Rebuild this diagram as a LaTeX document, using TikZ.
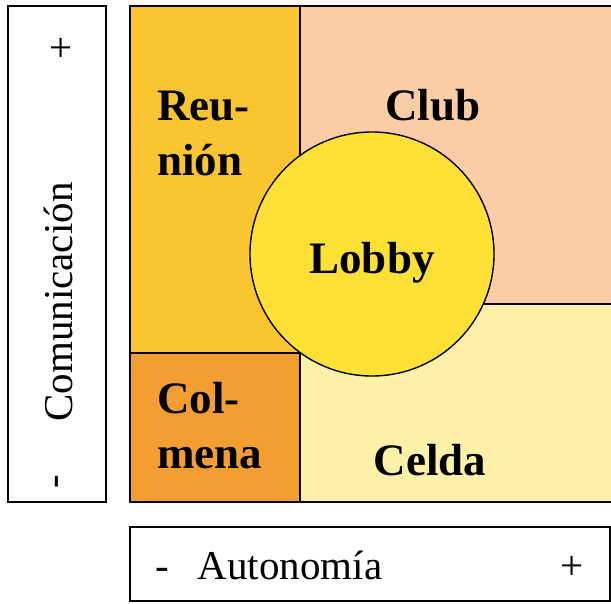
\documentclass[tikz,border=0pt]{standalone}
\usepackage{fontspec}
\setmainfont{Liberation Serif}
\definecolor{reunion}{HTML}{FBC531}
\definecolor{colmena}{HTML}{F49E32}
\definecolor{club}{HTML}{FACDA6}
\definecolor{celda}{HTML}{FDF0A9}
\definecolor{lobby}{HTML}{FFE136}
\begin{document}
\begin{tikzpicture}[x=1pt,y=-1pt,
  frame/.style={draw=black,line width=1.6pt},
  lbl/.style={font=\fontsize{45}{55}\selectfont\bfseries,align=left,inner sep=0pt},
  axis/.style={font=\fontsize{41}{41}\selectfont,inner sep=0pt}]
\useasboundingbox (0,0) rectangle (611,603);
% regions
\fill[reunion] (130,6) rectangle (300,353);
\fill[colmena] (130,353) rectangle (300,502);
\fill[club] (300,6) rectangle (612,304);
\fill[celda] (300,304) rectangle (612,502);
\draw[frame] (612,6) -- (130,6) -- (130,502) -- (612,502);
\draw[frame] (300,6) -- (300,502);
\draw[frame] (130,353) -- (300,353);
\draw[frame] (300,304) -- (612,304);
\node[circle,draw=black,line width=1.4pt,fill=lobby,minimum size=244pt,inner sep=0pt] (lobby) at (372,254) {};
\node[lbl] (lobbyt) at (372,263) {Lobby};
\node[lbl,anchor=west] (reu) at (157,133) {Reu-\\nión};
\node[lbl] (club) at (433,105) {Club};
\node[lbl,anchor=west] (col) at (157,426) {Col-\\mena};
\node[lbl] (celda) at (430,460) {Celda};
% vertical axis
\draw[frame] (8,6) rectangle (106,502);
\node[axis] (vplus) at (61,50) {+};
\node[axis,rotate=90] (vlab) at (58,302) {Comunicación};
\node[axis,rotate=90] (vminus) at (61,482) {-};
% horizontal axis
\draw[frame] (612,527) -- (130,527) -- (130,601) -- (612,601);
\draw[frame] (610,527) -- (610,601);
\node[axis,anchor=base] (hminus) at (162,579) {-};
\node[axis,anchor=base] (hlab) at (290,579) {Autonomía};
\node[axis,anchor=base] (hplus) at (572,579) {+};
\end{tikzpicture}
\end{document}
